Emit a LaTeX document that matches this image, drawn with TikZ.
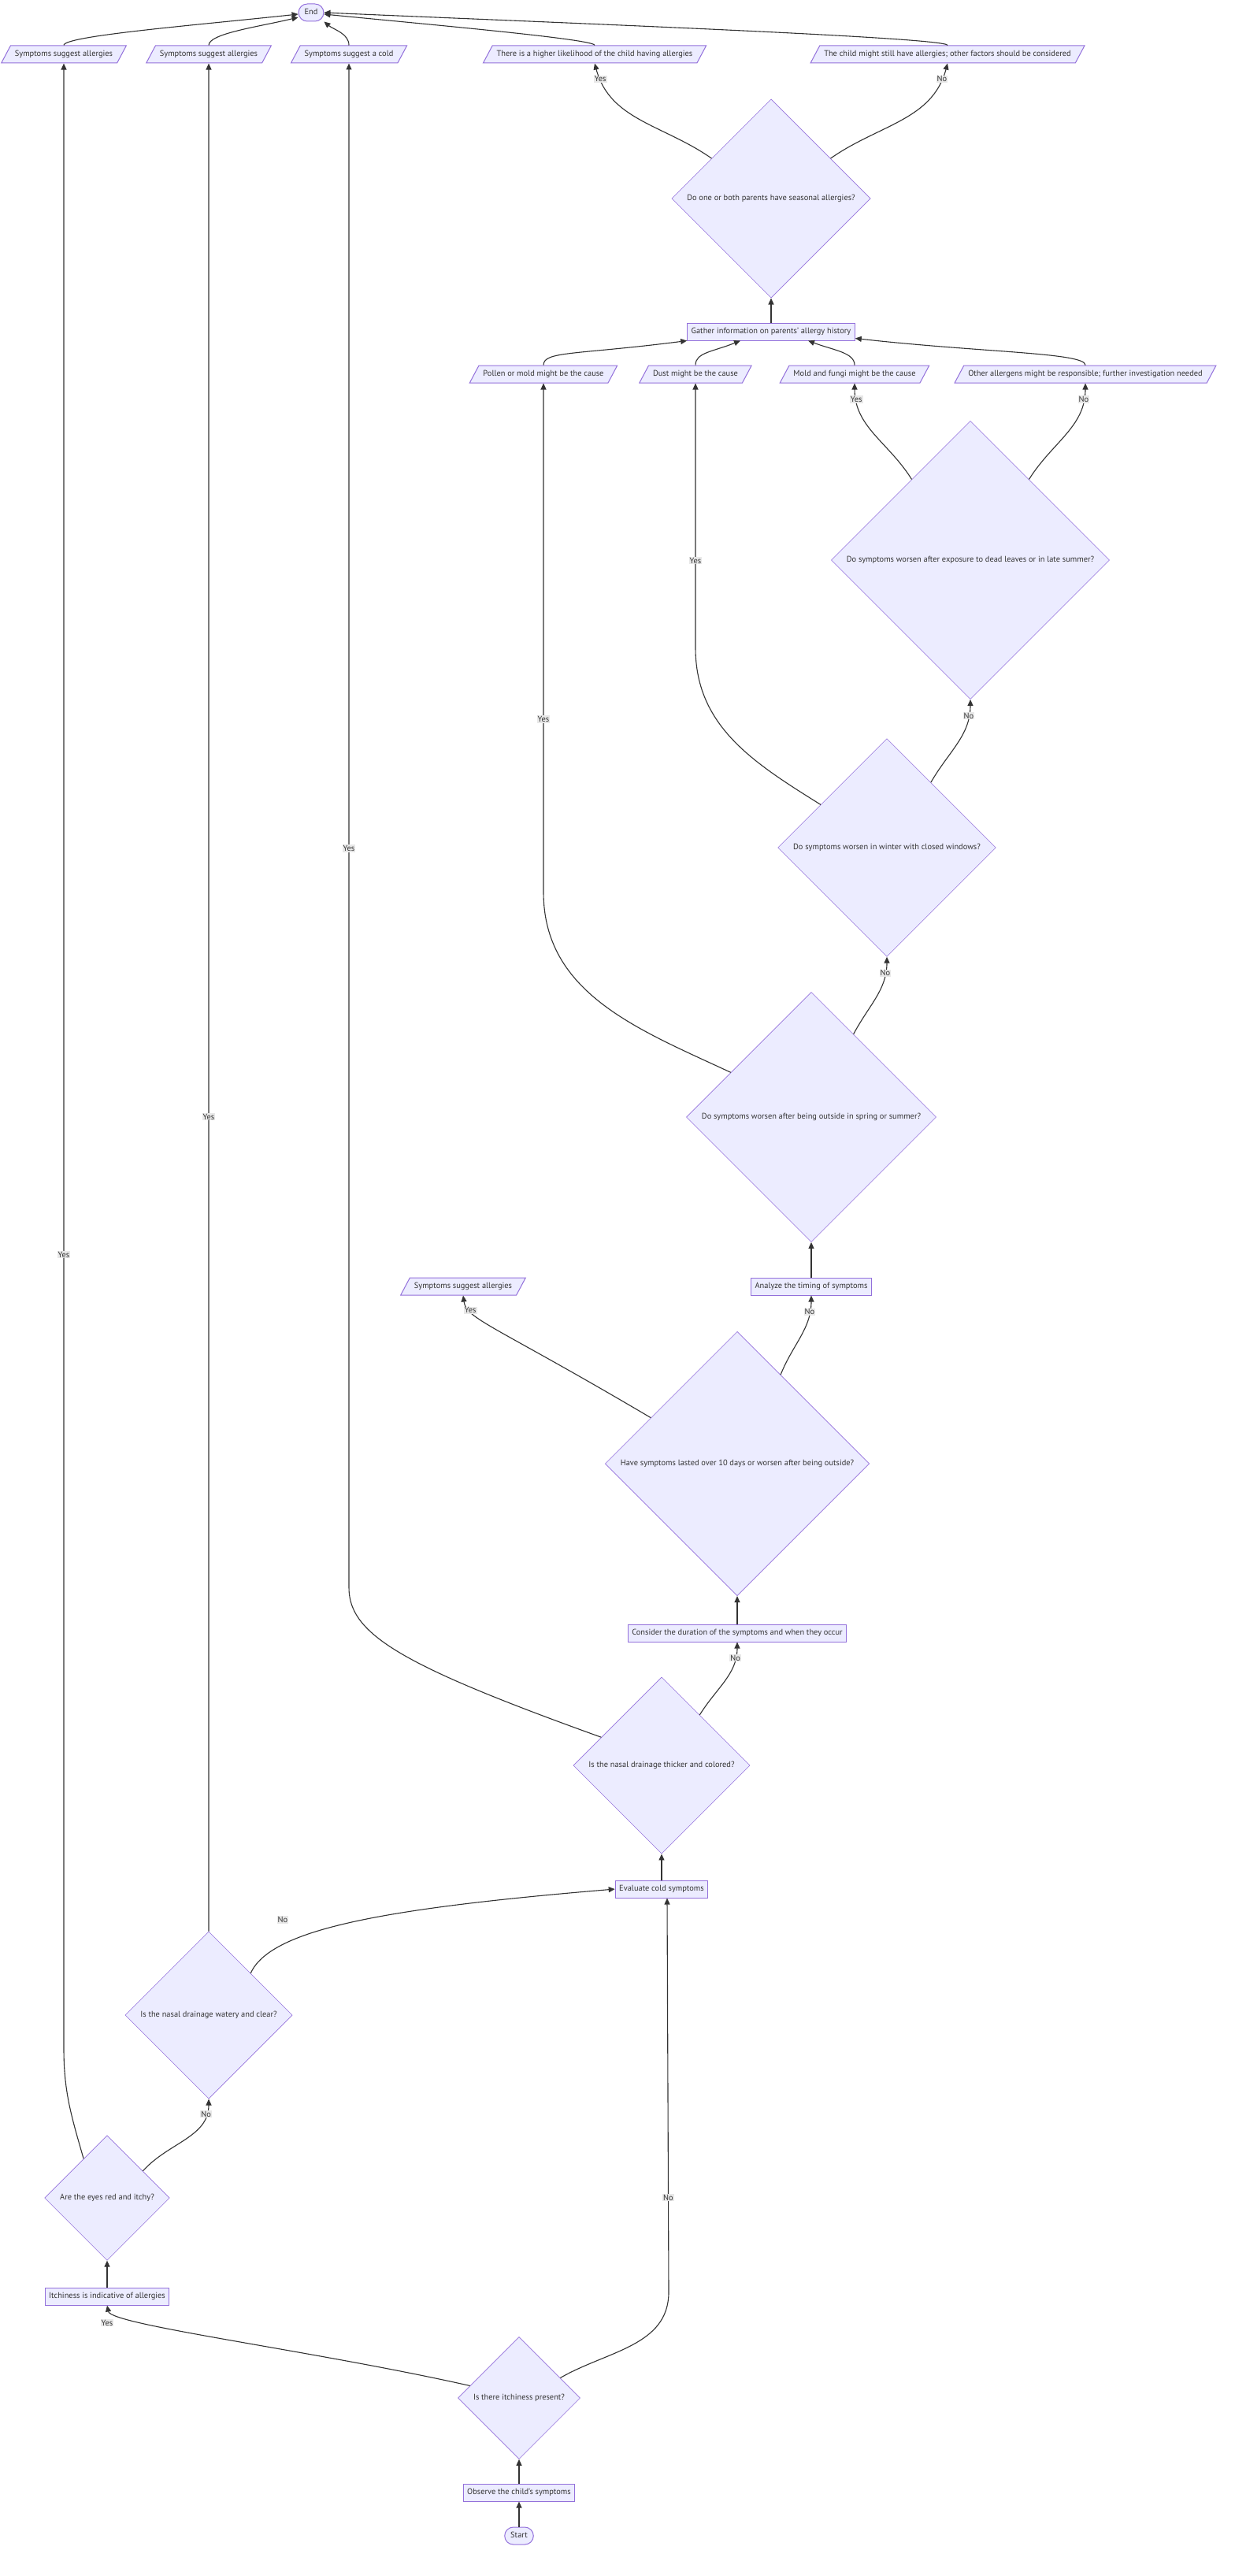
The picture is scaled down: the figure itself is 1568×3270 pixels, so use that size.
\documentclass[tikz,border=0pt]{standalone}
\usepackage{fontspec}
\setmainfont{PT Sans}
\usepackage{xcolor}
\usetikzlibrary{arrows.meta,positioning,calc,shapes.geometric}
\definecolor{boxfill}{HTML}{ECECFF}
\definecolor{boxline}{HTML}{9370DB}
\definecolor{linegray}{HTML}{333333}
\definecolor{lblfill}{HTML}{E8E8E8}

\begin{document}
\begin{tikzpicture}[x=1pt, y=1pt,
  base/.style={draw=boxline, fill=boxfill, text=linegray, font=\fontsize{10.4}{12}\selectfont,
               text height=7pt, text depth=2pt},
  proc/.style={base, line width=1pt, inner xsep=5pt, inner ysep=6.5pt},
  io/.style={base, trapezium, trapezium left angle=62, trapezium right angle=118,
             line width=1pt, inner xsep=5.5pt, inner ysep=6.5pt},
  decision/.style={base, diamond, aspect=1, line width=0.6pt, inner sep=7.5pt},
  terminal/.style={base, rounded corners=11pt, line width=1pt, inner xsep=7.5pt, inner ysep=6.5pt},
  arrow/.style={-{Triangle[length=8pt, width=7pt]}, line width=1.1pt, draw=linegray},
  lbl/.style={fill=lblfill, text=linegray, inner sep=1pt, font=\fontsize{10.4}{12}\selectfont}
]
  \useasboundingbox (0,0) rectangle (1568,-3270);

  \node[terminal] (fin)     at (395,-16)   {End};
  \node[io]       (allerg1) at (81,-69)    {Symptoms suggest allergies};
  \node[io]       (allerg2) at (265,-69)   {Symptoms suggest allergies};
  \node[io]       (cold)    at (443,-69)   {Symptoms suggest a cold};
  \node[io]       (likely)  at (755,-69)   {There is a higher likelihood of the child having allergies};
  \node[io]       (maybe)   at (1203,-69)  {The child might still have allergies; other factors should be considered};
  \node[decision] (parents) at (979,-252)  {Do one or both parents have seasonal allergies?};
  \node[proc]     (gather)  at (979,-421)  {Gather information on parents' allergy history};
  \node[io]       (pollen)  at (690,-475)  {Pollen or mold might be the cause};
  \node[io]       (dust)    at (883,-475)  {Dust might be the cause};
  \node[io]       (mold)    at (1085,-475) {Mold and fungi might be the cause};
  \node[io]       (other)   at (1378,-475) {Other allergens might be responsible; further investigation needed};
  \node[decision] (leaves)  at (1232,-711) {Do symptoms worsen after exposure to dead leaves or in late summer?};
  \node[decision] (winter)  at (1126,-1076) {Do symptoms worsen in winter with closed windows?};
  \node[decision] (spring)  at (1030,-1418) {Do symptoms worsen after being outside in spring or summer?};
  \node[io]       (allerg3) at (588,-1633) {Symptoms suggest allergies};
  \node[proc]     (timing)  at (1030,-1633) {Analyze the timing of symptoms};
  \node[decision] (lasted)  at (936,-1858) {Have symptoms lasted over 10 days or worsen after being outside?};
  \node[proc]     (duration) at (936,-2073) {Consider the duration of the symptoms and when they occur};
  \node[decision] (thick)   at (840,-2241) {Is the nasal drainage thicker and colored?};
  \node[proc]     (evaluate) at (840,-2398) {Evaluate cold symptoms};
  \node[decision] (watery)  at (265,-2558) {Is the nasal drainage watery and clear?};
  \node[decision] (eyes)    at (136,-2790) {Are the eyes red and itchy?};
  \node[proc]     (itchy)   at (136,-2915) {Itchiness is indicative of allergies};
  \node[decision] (itch)    at (659,-3044) {Is there itchiness present?};
  \node[proc]     (observe) at (659,-3164) {Observe the child's symptoms};
  \node[terminal] (start)   at (659,-3219) {Start};

  \draw[arrow] (start) -- (observe);
  \draw[arrow] (observe) -- (itch);
  \draw[arrow] (itch.166) .. controls +(-200,45) and +(5,-25) .. (itchy.south) node[lbl, pos=1, below=17pt] {Yes};
  \draw[arrow] (itch.26) to[out=30, in=-90] ([xshift=9pt, yshift=-500pt]evaluate.south) -- ([xshift=7pt]evaluate.south) node[lbl, pos=0.24] {No};
  \draw[arrow] (itchy) -- (eyes);
  \draw[arrow] (eyes.121) to[out=106, in=-90] ([yshift=-2520pt]allerg1.south) -- (allerg1.south) node[lbl, pos=0.4] {Yes};
  \draw[arrow] (eyes.37) to[out=48, in=-90] node[lbl, pos=0.85] {No} (watery.south);
  \draw[arrow] (watery.north) -- (allerg2.south) node[lbl, pos=0.436] {Yes};
  \draw[arrow] (watery.north east) .. controls +(25,55) and +(-300,-25) .. (evaluate.west) node[lbl, pos=0.25, above=26pt] {No};
  \draw[arrow] (evaluate) -- (thick);
  \draw[arrow] (thick.155) .. controls +(-250,90) and +(0,-60) .. ([yshift=-1935pt]cold.south) -- (cold.south) node[lbl, pos=0.485] {Yes};
  \draw[arrow] (thick.53) to[out=58, in=-90] node[lbl, pos=0.82] {No} (duration.south);
  \draw[arrow] (duration) -- (lasted);
  \draw[arrow] (lasted.152) .. controls +(-200,118) and +(4,-30) .. (allerg3.south) node[lbl, pos=0.77] {Yes};
  \draw[arrow] (lasted.64) to[out=68, in=-90] node[lbl, pos=0.82] {No} (timing.south);
  \draw[arrow] (timing) -- (spring);
  \draw[arrow] (spring.151) to[out=155, in=-90] ([yshift=-646pt]pollen.south) -- (pollen.south) node[lbl, pos=0.34] {Yes};
  \draw[arrow] (spring.63) to[out=62, in=-90] node[lbl, pos=0.82] {No} (winter.south);
  \draw[arrow] (winter.147) to[out=148, in=-90] ([yshift=-336pt]dust.south) -- (dust.south) node[lbl, pos=0.33] {Yes};
  \draw[arrow] (winter.56) to[out=60, in=-90] node[lbl, pos=0.835] {No} (leaves.south);
  \draw[arrow] (leaves.126) to[out=122, in=-90] node[lbl, pos=0.865] {Yes} (mold.south);
  \draw[arrow] (leaves.54) to[out=58, in=-90] node[lbl, pos=0.865] {No} (other.south);
  \draw[arrow] (pollen.north) .. controls +(0,18) and +(-140,-18) .. (gather.south west);
  \draw[arrow] (dust.north) .. controls +(0,16) and +(-35,-14) .. ([xshift=-39pt]gather.south);
  \draw[arrow] (mold.north) .. controls +(0,16) and +(32,-12) .. ([xshift=47pt]gather.south);
  \draw[arrow] (other.north) .. controls +(0,16) and +(160,-18) .. ([yshift=3pt]gather.south east);
  \draw[arrow] (gather) -- (parents);
  \draw[arrow] (parents.146) to[out=145, in=-75] node[lbl, pos=0.9] {Yes} (likely.south);
  \draw[arrow] (parents.34) to[out=35, in=-105] node[lbl, pos=0.9] {No} (maybe.south);
  \draw[arrow] (allerg1.north) .. controls +(0,12) and +(-130,-14) .. ([yshift=-2pt]fin.west);
  \draw[arrow] (allerg2.north) .. controls +(0,15) and +(-50,-12) .. ([yshift=-6pt]fin.west);
  \draw[arrow] (cold.north) .. controls +(0,15) and +(12,-10) .. (fin.south east);
  \draw[arrow] (likely.north) .. controls +(0,8) and +(120,-12) .. ([yshift=-2pt]fin.east);
  \draw[arrow] (maybe.north) .. controls +(0,10) and +(300,-13) .. (fin.east);
\end{tikzpicture}
\end{document}
